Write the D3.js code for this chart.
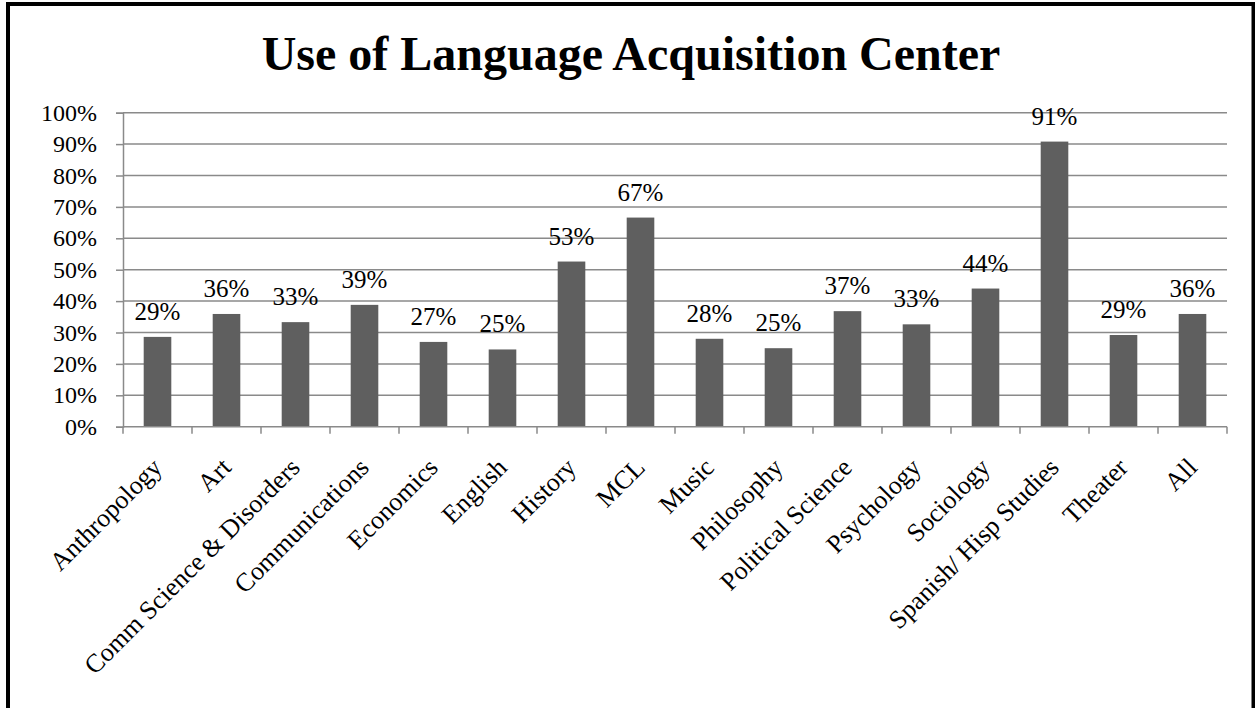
<!DOCTYPE html>
<html>
<head>
<meta charset="utf-8">
<script src="https://cdn.jsdelivr.net/npm/d3@7"></script>
<style>
  html, body { margin: 0; padding: 0; background: #fff; }
  svg { display: block; }
</style>
</head>
<body>
<svg id="chart" width="1255" height="708"></svg>
<script>
const categories = ["Anthropology", "Art", "Comm Science & Disorders", "Communications", "Economics", "English", "History", "MCL", "Music", "Philosophy", "Political Science", "Psychology", "Sociology", "Spanish/ Hisp Studies", "Theater", "All"];
const values = [0.286, 0.359, 0.333, 0.388, 0.270, 0.246, 0.526, 0.666, 0.280, 0.250, 0.368, 0.326, 0.440, 0.908, 0.292, 0.359];
const yTicks = [0, 0.1, 0.2, 0.3, 0.4, 0.5, 0.6, 0.7, 0.8, 0.9, 1.0];
const title = "Use of Language Acquisition Center";

const FONT = "Liberation Serif";
const svg = d3.select("#chart").attr("font-family", FONT);
const plot = { left: 123, right: 1227, top: 112.7, bottom: 426.7 };

svg.append("rect").attr("x", 8).attr("y", 4).attr("width", 1245.5).attr("height", 720)
  .attr("fill", "none").attr("stroke", "#000").attr("stroke-width", 4);

svg.append("text").attr("x", 631).attr("y", 70).attr("text-anchor", "middle")
  .attr("font-family", FONT)
  .attr("font-size", 48).attr("font-weight", "bold").text(title);

const x = d3.scaleBand().domain(categories).range([plot.left, plot.right])
  .paddingInner(0.6).paddingOuter(0.3);
const y = d3.scaleLinear().domain([0, 1]).range([plot.bottom, plot.top]);

const gridColor = "#8a8a8a";

svg.append("g").selectAll("line").data(yTicks.slice(1)).join("line")
  .attr("x1", plot.left).attr("x2", plot.right)
  .attr("y1", d => y(d)).attr("y2", d => y(d))
  .attr("stroke", gridColor).attr("stroke-width", 1.5);

const yAxis = d3.axisLeft(y).tickValues(yTicks).tickFormat(d3.format(".0%")).tickSize(7).tickPadding(19);
const gy = svg.append("g").attr("transform", `translate(${plot.left},0)`).call(yAxis);
gy.attr("font-family", FONT).attr("font-size", 24);
gy.select(".domain").attr("stroke", gridColor).attr("stroke-width", 1.5);
gy.selectAll(".tick line").attr("stroke", gridColor).attr("stroke-width", 1.5);
gy.selectAll(".tick text").attr("font-size", 24).attr("fill", "#000").attr("font-family", FONT);

svg.append("g").selectAll("rect").data(values).join("rect")
  .attr("x", (d, i) => x(categories[i]))
  .attr("width", x.bandwidth())
  .attr("y", d => y(d))
  .attr("height", d => y(0) - y(d))
  .attr("fill", "#5f5f5f");

const step = x.step();
const bounds = categories.map(c => x(c) - step * 0.3).concat([plot.right]);
svg.append("line").attr("x1", plot.left).attr("x2", plot.right)
  .attr("y1", y(0)).attr("y2", y(0)).attr("stroke", gridColor).attr("stroke-width", 1.5);
svg.append("g").selectAll("line").data(bounds).join("line")
  .attr("x1", d => d).attr("x2", d => d)
  .attr("y1", y(0)).attr("y2", y(0) + 7)
  .attr("stroke", gridColor).attr("stroke-width", 1.5);

svg.append("g").attr("font-family", FONT).selectAll("text").data(values).join("text")
  .attr("x", (d, i) => x(categories[i]) + x.bandwidth() / 2)
  .attr("y", d => y(d) - 17)
  .attr("text-anchor", "middle").attr("font-size", 25).attr("font-family", FONT)
  .text(d => Math.round(d * 100) + "%");

svg.append("g").attr("font-family", FONT).selectAll("text").data(categories).join("text")
  .attr("text-anchor", "end").attr("font-size", 26).attr("font-family", FONT)
  .attr("transform", c => `translate(${x(c) + x.bandwidth() / 2 + 6},469) rotate(-45)`)
  .text(c => c);
</script>
</body>
</html>
